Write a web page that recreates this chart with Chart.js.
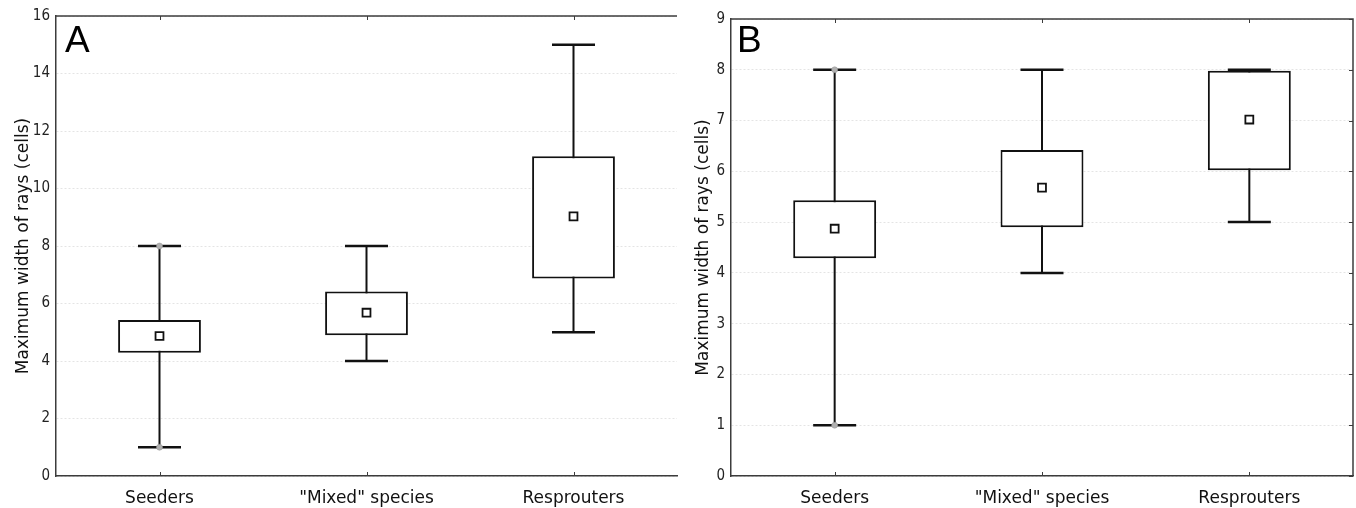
<!DOCTYPE html>
<html>
<head>
    <title>Maximum width of rays</title>
    <script src="https://cdn.jsdelivr.net/npm/chart.js"></script>
</head>
<style>
    body { margin: 0; background: #fff; }
    .panel { position: absolute; top: 0; height: 508px; }
    .letter { position: absolute; font-family: "Liberation Sans", Arial, sans-serif; font-size: 37px; color: #000; line-height: 1; }
</style>
<body>
    <div class="panel" style="left: 0; width: 680px;">
        <canvas id="chartA"></canvas>
        <div class="letter" style="left: 65px; top: 21px;">A</div>
    </div>
    <div class="panel" style="left: 680px; width: 676px;">
        <canvas id="chartB"></canvas>
        <div class="letter" style="left: 57px; top: 21px;">B</div>
    </div>
    <script>
        const categories = ['Seeders', '"Mixed" species', 'Resprouters'];

        // panel A
        const minA  = [1, 4, 5];
        const q1A   = [4.29, 4.9, 6.87];
        const q3A   = [5.43, 6.42, 11.12];
        const maxA  = [8, 8, 15];
        const meanA = [4.87, 5.68, 9.03];

        // panel B
        const minB  = [1, 4, 5];
        const q1B   = [4.29, 4.9, 6.02];
        const q3B   = [5.43, 6.42, 7.98];
        const maxB  = [8, 8, 8];
        const meanB = [4.87, 5.68, 7.02];

        // grey markers at the seeders' extremes
        const dotLow  = [1, null, null];
        const dotHigh = [8, null, null];

        const yTicksA = { max: 16, step: 2 };
        const yTicksB = { max: 9, step: 1 };

        const AXIS = '#3c3c3c';
        const INK = '#111';

        // whiskers + caps, drawn under the boxes
        const whiskers = {
            id: 'whiskers',
            beforeDatasetsDraw(chart, args, opts) {
                const ctx = chart.ctx;
                const x = chart.scales.x, y = chart.scales.y;
                ctx.save();
                ctx.strokeStyle = INK;
                for (var i = 0; i < opts.lo.length; i++) {
                    const cx = x.getPixelForValue(i);
                    const yLo = y.getPixelForValue(opts.lo[i]);
                    const yHi = y.getPixelForValue(opts.hi[i]);
                    ctx.lineWidth = 2;
                    ctx.beginPath();
                    ctx.moveTo(cx, yLo);
                    ctx.lineTo(cx, yHi);
                    ctx.stroke();
                    ctx.lineWidth = 2.5;
                    ctx.beginPath();
                    ctx.moveTo(cx - 21.5, yLo);
                    ctx.lineTo(cx + 21.5, yLo);
                    ctx.moveTo(cx - 21.5, yHi);
                    ctx.lineTo(cx + 21.5, yHi);
                    ctx.stroke();
                }
                ctx.restore();
            }
        };

        // top (and right) frame lines with small inward ticks
        const frame = {
            id: 'frame',
            afterDraw(chart, args, opts) {
                const ctx = chart.ctx;
                const a = chart.chartArea;
                const x = chart.scales.x, y = chart.scales.y;
                ctx.save();
                ctx.strokeStyle = AXIS;
                ctx.lineWidth = 1.5;
                ctx.beginPath();
                ctx.moveTo(a.left, a.top);
                ctx.lineTo(a.right, a.top);
                if (opts.right) {
                    ctx.lineTo(a.right, a.bottom);
                }
                ctx.stroke();
                ctx.lineWidth = 1;
                ctx.beginPath();
                x.ticks.forEach(function (t, i) {
                    const px = Math.round(x.getPixelForTick(i)) + 0.5;
                    ctx.moveTo(px, a.top);
                    ctx.lineTo(px, a.top + 4);
                    ctx.moveTo(px, a.bottom);
                    ctx.lineTo(px, a.bottom - 4);
                });
                if (opts.right) {
                    y.ticks.forEach(function (t, i) {
                        const py = Math.round(y.getPixelForTick(i)) + 0.5;
                        ctx.moveTo(a.right, py);
                        ctx.lineTo(a.right - 4, py);
                    });
                }
                ctx.stroke();
                ctx.restore();
            }
        };

        function makePanel(id, lo, q1, q3, hi, mean, yt, pad, yWidth, rightFrame) {
            const ctx = document.getElementById(id).getContext('2d');
            return new Chart(ctx, {
                type: 'bar',
                data: {
                    labels: categories,
                    datasets: [
                        {
                            type: 'line',
                            label: 'extremes low',
                            data: dotLow,
                            showLine: false,
                            pointStyle: 'circle',
                            pointRadius: 3,
                            pointBackgroundColor: '#b0b0b0',
                            pointBorderColor: '#999',
                            pointBorderWidth: 0.5
                        },
                        {
                            type: 'line',
                            label: 'extremes high',
                            data: dotHigh,
                            showLine: false,
                            pointStyle: 'circle',
                            pointRadius: 3,
                            pointBackgroundColor: '#b0b0b0',
                            pointBorderColor: '#999',
                            pointBorderWidth: 0.5
                        },
                        {
                            type: 'line',
                            label: 'Mean',
                            data: mean,
                            showLine: false,
                            pointStyle: 'rect',
                            pointRadius: 5.6,
                            pointBackgroundColor: '#fff',
                            pointBorderColor: INK,
                            pointBorderWidth: 1.8
                        },
                        {
                            label: 'Mean±SE',
                            data: q1.map(function (v, i) { return [v, q3[i]]; }),
                            backgroundColor: '#fff',
                            borderColor: INK,
                            borderWidth: 2,
                            borderSkipped: false,
                            barPercentage: 0.4,
                            categoryPercentage: 1
                        }
                    ]
                },
                options: {
                    responsive: true,
                    maintainAspectRatio: false,
                    animation: false,
                    events: [],
                    layout: {
                        autoPadding: false,
                        padding: pad
                    },
                    scales: {
                        x: {
                            grid: { display: false },
                            border: { display: true, color: AXIS, width: 1.5 },
                            ticks: {
                                color: INK,
                                padding: 4,
                                font: { family: 'DejaVu Sans', size: 17 }
                            },
                            afterFit: function (s) {
                                s.height = 32;
                                s.paddingLeft = 0;
                                s.paddingRight = 0;
                            }
                        },
                        y: {
                            min: 0,
                            max: yt.max,
                            grid: {
                                color: '#e4e4e4',
                                lineWidth: 1,
                                drawTicks: false
                            },
                            border: { display: true, color: AXIS, width: 1.5, dash: [2, 2] },
                            ticks: {
                                stepSize: yt.step,
                                color: '#222',
                                padding: 6,
                                font: { family: "'DejaVu Sans Condensed', 'Liberation Sans'", size: 15 }
                            },
                            title: {
                                display: true,
                                text: 'Maximum width of rays (cells)',
                                color: INK,
                                padding: { top: 13, bottom: 0 },
                                font: { family: 'DejaVu Sans', size: 17 }
                            },
                            afterFit: function (s) { s.width = yWidth; }
                        }
                    },
                    plugins: {
                        legend: { display: false },
                        tooltip: { enabled: false },
                        whiskers: { lo: lo, hi: hi },
                        frame: { right: rightFrame }
                    }
                },
                plugins: [whiskers, frame]
            });
        }

        makePanel('chartA', minA, q1A, q3A, maxA, meanA, yTicksA,
            { top: 16, right: 3, left: 0, bottom: 0 }, 56, false);
        makePanel('chartB', minB, q1B, q3B, maxB, meanB, yTicksB,
            { top: 19, right: 3, left: 0, bottom: 0 }, 51, true);
    </script>
</body>
</html>
